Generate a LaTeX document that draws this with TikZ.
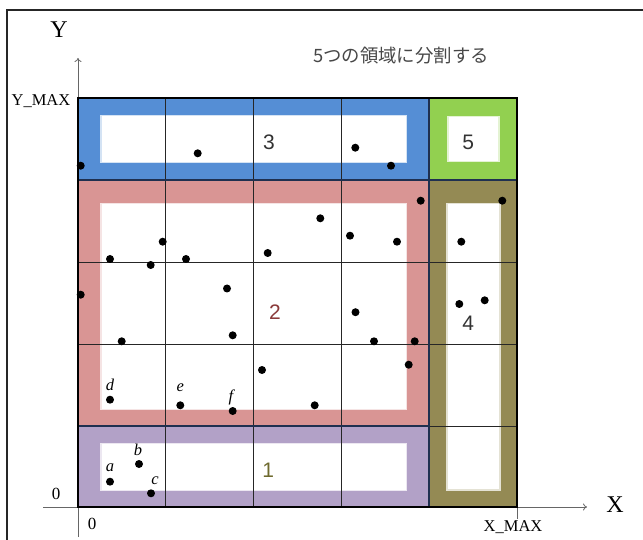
\documentclass[tikz,border=0pt]{standalone}
\usepackage{fontspec}
\setmainfont{Liberation Serif}
\newfontfamily\cjkfont{Noto Sans CJK JP}
\newfontfamily\numfont{Liberation Sans}
\usetikzlibrary{arrows.meta}
\definecolor{rblue}{HTML}{558ED5}
\definecolor{rgreen}{HTML}{92D050}
\definecolor{rpink}{HTML}{D99594}
\definecolor{rolive}{HTML}{948A54}
\definecolor{rpurple}{HTML}{B2A1C7}
\definecolor{rnavy}{HTML}{1F3050}
\definecolor{axisgray}{HTML}{666666}
\definecolor{twored}{HTML}{8B3A3A}
\definecolor{oneolive}{HTML}{6E6A2E}
\tikzset{
  inner/.style={fill=white, line width=1.6pt},
  gridline/.style={draw=black!85, line width=0.7pt},
  sepline/.style={draw=rnavy, line width=1.1pt},
  axisline/.style={draw=axisgray, line width=0.8pt},
  dotpt/.style={circle, fill=black, inner sep=0pt, minimum size=8pt},
  ptlabel/.style={font=\fontsize{16.5}{18}\selectfont\itshape, inner sep=0pt},
  numlabel/.style={font=\numfont\fontsize{21}{24}\selectfont, inner sep=0pt, text=black!80},
  axlabel/.style={font=\fontsize{16.5}{18}\selectfont, inner sep=0pt},
}
\begin{document}
\begin{tikzpicture}[x=1pt, y=-1pt]
\useasboundingbox (0,0) rectangle (643,540);
% frame
\draw[line width=2pt, black!85] (7,540) -- (7,10) -- (643,10);
% regions
\fill[rblue]   (78,98)  rectangle (429,180);
\fill[rgreen]  (429,98) rectangle (517,180);
\fill[rpink]   (78,180) rectangle (429,426);
\fill[rolive]  (429,180) rectangle (517,507);
\fill[rpurple] (78,426) rectangle (429,507);
% inner white boxes
\filldraw[inner, draw=rblue!25]   (101,115.5) rectangle (406.5,162.5);
\filldraw[inner, draw=rgreen!25]  (448,116.5) rectangle (499,161.5);
\filldraw[inner, draw=rpink!25]   (101,203.5) rectangle (406.5,409.5);
\filldraw[inner, draw=rolive!25]  (447,203.5) rectangle (500,490);
\filldraw[inner, draw=rpurple!25] (101,443.5) rectangle (406.5,490.5);
% grid lines
\foreach \gx in {165.7,253.5,341} \draw[gridline] (\gx,98) -- (\gx,507);
\foreach \gy in {262.5,344,426} \draw[gridline] (78,\gy) -- (517,\gy);
\draw[sepline] (429,98) -- (429,507);
\draw[sepline] (78,180) -- (517,180);
\draw[sepline] (78,426) -- (429,426);
% axes
\coordinate (ybot) at (78,537);
\coordinate (ytop) at (78,58);
\coordinate (xleft) at (43,507);
\coordinate (xright) at (587,507);
\coordinate (tick0) at (517,507);
\coordinate (tick1) at (517,519);
\draw[axisline, -{To[length=4pt,width=7pt]}] (ybot) -- (ytop);
\draw[axisline, -{To[length=4pt,width=7pt]}] (xleft) -- (xright);
\draw[axisline] (tick0) -- (tick1);
% outer boundary
\draw[line width=2pt, black] (78,98) rectangle (517,507);
% points
\foreach \px/\py [count=\i] in {
  80.7/165.7, 197.7/153.3, 355.3/147.7, 391/165.7,
  420.7/200.7, 502.3/200.7, 320.3/218.3, 162.7/241.7, 350/235.7, 397/241.7, 461.3/241.7,
  110/259, 150.7/265, 186/259, 267.7/253, 80.7/294.7, 227/288.5, 459.3/304, 484.7/300.3,
  355.5/312.2, 121.7/341.3, 232.7/335.3, 374/341.3, 414.7/341.3, 408.7/364.7, 262/370,
  314.7/405.3}
  \node[dotpt] (p\i) at (\px,\py) {};
\node[dotpt] (d) at (110,399.7) {};
\node[dotpt] (e) at (180.3,405.3) {};
\node[dotpt] (f) at (232.7,411) {};
\node[dotpt] (a) at (110,481.7) {};
\node[dotpt] (b) at (139,464) {};
\node[dotpt] (c) at (151,493.3) {};
\node[ptlabel] (ld) at (110,385) {d};
\node[ptlabel] (le) at (180.3,387.5) {e};
\node[ptlabel] (lf) at (231,397.5) {f};
\node[ptlabel] (la) at (110,468) {a};
\node[ptlabel] (lb) at (138,449.5) {b};
\node[ptlabel] (lc) at (155,480.5) {c};
% region numbers
\node[numlabel] (n3) at (269,142.3) {3};
\node[numlabel] (n5) at (468.3,142.3) {5};
\node[numlabel, text=twored] (n2) at (275,311.7) {2};
\node[numlabel] (n4) at (468.3,323.3) {4};
\node[numlabel, text=oneolive] (n1) at (268.3,470.7) {1};
% axis labels
\node[font=\fontsize{24}{26}\selectfont, inner sep=0pt] (ly) at (59,30) {Y};
\node[font=\fontsize{24}{26}\selectfont, inner sep=0pt] (lx) at (615,505) {X};
\node[axlabel] (lymax) at (41,101) {Y\_MAX};
\node[axlabel] (lxmax) at (513,527) {X\_MAX};
\node[font=\fontsize{17}{19}\selectfont, inner sep=0pt] (o1) at (56,494) {0};
\node[font=\fontsize{17}{19}\selectfont, inner sep=0pt] (o2) at (92,524) {0};
% title
\node[font=\cjkfont\fontsize{18.4}{20}\selectfont, text=black!72, inner sep=0pt] (title) at (401,56) {5つの領域に分割する};
\end{tikzpicture}
\end{document}
